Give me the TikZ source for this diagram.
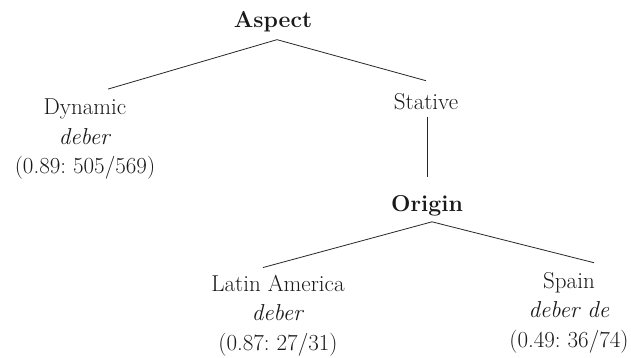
\documentclass[tikz,border=0pt]{standalone}
\usepackage{fontspec}
\frenchspacing
\begin{document}
\begin{tikzpicture}[x=1pt,y=-1pt,
  every node/.style={inner sep=0pt, anchor=base, align=center, text=black!90,
    font=\fontsize{23}{29.5}\selectfont},
  head/.style={font=\fontsize{23}{29.5}\selectfont\bfseries},
  branch/.style={line width=0.8pt, draw=black!85}]
\useasboundingbox (0,0) rectangle (631,358);

% tree nodes (multi-line nodes are placed by the baseline of their last line)
\node[head] (asp) at (273,28) {Aspect};
\node (dyn) at (85,174) {Dynamic\\\textit{deber}\\(0.89: 505/569)};
\node (sta) at (426,110) {Stative};
\node[head] (ori) at (427,211) {Origin};
\node (lat) at (278,350) {Latin America\\\textit{deber}\\(0.87: 27/31)};
\node (spa) at (569,347) {Spain\\\textit{deber de}\\(0.49: 36/74)};

% branches
\draw[branch] ([xshift=4pt,yshift=-7pt]asp.south) -- ([xshift=23pt,yshift=10pt]dyn.north);
\draw[branch] ([xshift=4pt,yshift=-7pt]asp.south) -- ([yshift=13pt]sta.north);
\draw[branch] ([xshift=1pt,yshift=-6pt]sta.south) -- ([yshift=18pt]ori.north);
\draw[branch] ([xshift=5pt,yshift=-6pt]ori.south) -- ([xshift=-15pt,yshift=7pt]lat.north);
\draw[branch] ([xshift=5pt,yshift=-6pt]ori.south) -- ([xshift=25pt,yshift=9pt]spa.north);
\end{tikzpicture}
\end{document}
